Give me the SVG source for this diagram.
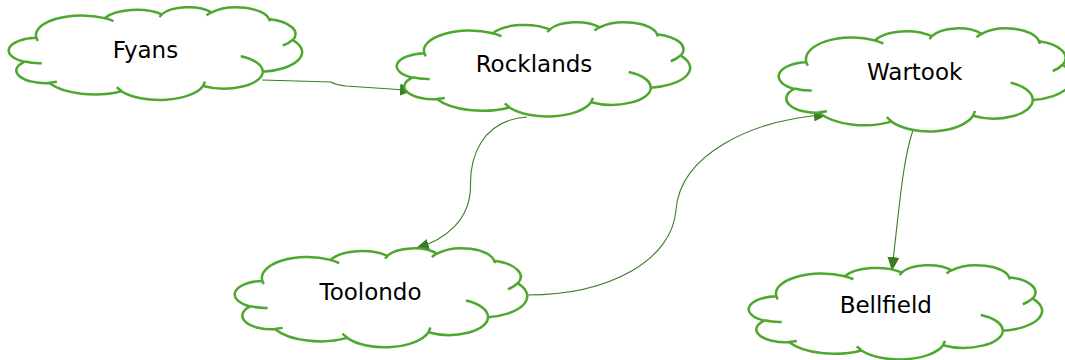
<svg xmlns="http://www.w3.org/2000/svg" xmlns:xlink="http://www.w3.org/1999/xlink" width="1065" height="360" viewBox="0 0 1065 360">
<style>
.outline{fill:#ffffff;stroke:#4ea72e;stroke-width:2.5;stroke-linejoin:round;}
.hooks{fill:none;stroke:#4ea72e;stroke-width:2.5;stroke-linecap:butt;}
.lbl{font-family:"DejaVu Sans",sans-serif;font-size:23px;fill:#000000;text-anchor:middle;}
.edge{fill:none;stroke:#3b7d23;stroke-width:1.1;}
</style>
<defs>
<marker id="arr" markerUnits="userSpaceOnUse" markerWidth="14" markerHeight="12" viewBox="0 0 14 12" refX="13" refY="6" orient="auto">
<path d="M0,0 L14,6 L0,12 Z" fill="#3b7d23"/>
</marker>
<g id="cloud">
<path class="outline" vector-effect="non-scaling-stroke" d="M 26.36 31.93 A 45.65 20.42 0 0 1 94.66 11.56 A 36.05 16.15 0 0 1 151.79 7.63 A 29.50 13.21 0 0 1 201.65 5.51 A 32.83 14.66 0 0 1 259.00 12.39 A 36.05 16.16 0 0 1 282.66 34.36 A 45.79 20.49 0 0 1 252.83 67.12 A 39.10 17.48 0 0 1 193.02 81.81 A 45.64 20.48 0 0 1 111.41 87.26 A 52.18 23.43 0 0 1 39.24 78.83 A 29.47 13.15 0 0 1 14.28 56.78 A 29.37 13.21 0 0 1 26.36 31.93 Z"/>
<path class="hooks" vector-effect="non-scaling-stroke" d="M 31.72 58.17 A 29.37 13.21 0 0 1 14.60 56.40 M 46.83 77.55 A 29.47 13.15 0 0 1 39.33 78.40 M 111.38 86.87 A 45.64 20.48 0 0 1 106.86 82.99 M 194.85 77.22 A 45.64 20.48 0 0 1 193.05 81.47 M 230.69 51.01 A 39.10 17.48 0 0 1 252.66 66.87 M 282.52 34.12 A 36.05 16.16 0 0 1 272.73 40.07 M 259.04 12.06 A 32.83 14.66 0 0 1 259.56 14.87 M 196.55 8.78 A 32.83 14.66 0 0 1 201.56 5.20 M 149.66 10.49 A 29.50 13.21 0 0 1 152.08 7.40 M 94.63 11.54 A 45.65 20.42 0 0 1 103.45 14.56 M 27.90 35.09 A 45.65 20.42 0 0 1 26.36 31.93"/>
</g>
</defs>
<g id="connectors">
<path class="edge" marker-end="url(#arr)" d="M 262 80 L 331 82 Q 336 85 346 86 L 413 90.5"/>
<path class="edge" marker-end="url(#arr)" d="M 527 117 C 480 120, 470 160, 470.5 185 C 471 220, 445 240, 416 248.5"/>
<path class="edge" marker-end="url(#arr)" d="M 527 295 C 610 295, 672 260, 676 210 C 680 155, 750 120, 827 114.5"/>
<path class="edge" marker-end="url(#arr)" d="M 913 130 C 903 160, 900 200, 892 270"/>
</g>
<g id="node-fyans">
<use xlink:href="#cloud" href="#cloud" transform="translate(10,7) scale(1,0.965)"/>
<text class="lbl" x="145.5" y="58.3">Fyans</text>
</g>
<g id="node-rocklands">
<use xlink:href="#cloud" href="#cloud" transform="translate(398,22) scale(1,0.98)"/>
<text class="lbl" x="534" y="72.3">Rocklands</text>
</g>
<g id="node-wartook">
<use xlink:href="#cloud" href="#cloud" transform="translate(780,28) scale(1,1.073)"/>
<text class="lbl" x="914.7" y="80">Wartook</text>
</g>
<g id="node-toolondo">
<use xlink:href="#cloud" href="#cloud" transform="translate(236,248) scale(0.997,1.03)"/>
<text class="lbl" x="370.5" y="300">Toolondo</text>
</g>
<g id="node-bellfield">
<use xlink:href="#cloud" href="#cloud" transform="translate(750,265) scale(1,0.98)"/>
<text class="lbl" x="885.8" y="313.3">Bellfield</text>
</g>
</svg>
